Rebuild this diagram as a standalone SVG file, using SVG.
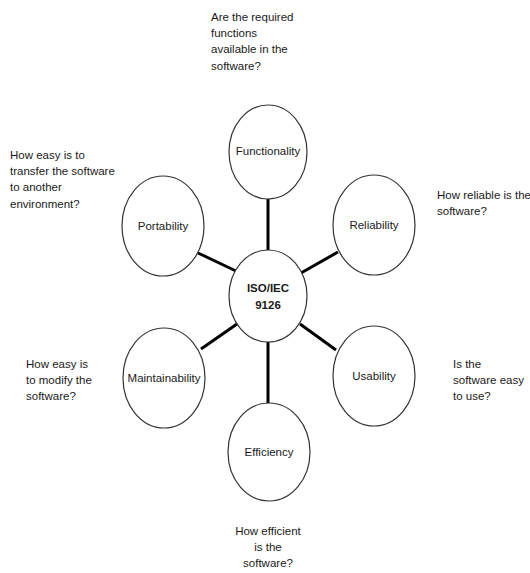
<svg xmlns="http://www.w3.org/2000/svg" width="530" height="573" viewBox="0 0 530 573">
  <style>
    .node ellipse { fill: #ffffff; stroke: #333333; stroke-width: 1.2; }
    .label { font-family: "Liberation Sans", Arial, sans-serif; font-size: 11.5px; fill: #1a1a1a; text-anchor: middle; dominant-baseline: central; }
    .hub { font-weight: bold; }
    .note { font-family: "Liberation Sans", Arial, sans-serif; font-size: 11.5px; fill: #1a1a1a; }
    .conn line { stroke: #000000; stroke-width: 3; }
  </style>
  <rect width="530" height="573" fill="#ffffff"/>

  <!-- spokes from the hub to each characteristic -->
  <g id="connectors" class="conn">
    <line x1="268" y1="199" x2="268" y2="251"/>
    <line x1="198" y1="253" x2="236" y2="271"/>
    <line x1="338" y1="252" x2="301" y2="273"/>
    <line x1="201" y1="349" x2="237" y2="324"/>
    <line x1="336" y1="350" x2="300" y2="324"/>
    <line x1="268" y1="341" x2="268" y2="404"/>
  </g>

  <g id="hub" class="node">
    <ellipse cx="268" cy="296" rx="39" ry="46"/>
    <text class="label hub" x="268" y="288">ISO/IEC</text>
    <text class="label hub" x="268" y="305">9126</text>
  </g>
  <g id="functionality" class="node">
    <ellipse cx="268" cy="152" rx="39" ry="47"/>
    <text class="label" x="268" y="151">Functionality</text>
  </g>
  <g id="portability" class="node">
    <ellipse cx="163" cy="226" rx="41" ry="50"/>
    <text class="label" x="163" y="226">Portability</text>
  </g>
  <g id="reliability" class="node">
    <ellipse cx="374" cy="225" rx="41" ry="50"/>
    <text class="label" x="374" y="225">Reliability</text>
  </g>
  <g id="maintainability" class="node">
    <ellipse cx="164" cy="378" rx="41" ry="50"/>
    <text class="label" x="164" y="378">Maintainability</text>
  </g>
  <g id="usability" class="node">
    <ellipse cx="374" cy="376" rx="41" ry="50"/>
    <text class="label" x="374" y="376">Usability</text>
  </g>
  <g id="efficiency" class="node">
    <ellipse cx="269" cy="452" rx="41" ry="49"/>
    <text class="label" x="269" y="452">Efficiency</text>
  </g>

  <!-- guiding questions -->
  <g id="q-functionality" class="note">
    <text x="211" y="21">Are the required</text>
    <text x="211" y="37">functions</text>
    <text x="211" y="53">available in the</text>
    <text x="211" y="70">software?</text>
  </g>
  <g id="q-portability" class="note">
    <text x="10" y="159">How easy is to</text>
    <text x="10" y="175">transfer the software</text>
    <text x="10" y="191">to another</text>
    <text x="10" y="208">environment?</text>
  </g>
  <g id="q-reliability" class="note">
    <text x="437" y="199">How reliable is the</text>
    <text x="437" y="215">software?</text>
  </g>
  <g id="q-maintainability" class="note">
    <text x="26" y="368">How easy is</text>
    <text x="26" y="384">to modify the</text>
    <text x="26" y="400">software?</text>
  </g>
  <g id="q-usability" class="note">
    <text x="453" y="368">Is the</text>
    <text x="453" y="384">software easy</text>
    <text x="453" y="400">to use?</text>
  </g>
  <g id="q-efficiency" class="note" text-anchor="middle">
    <text x="268" y="535">How efficient</text>
    <text x="268" y="551">is the</text>
    <text x="268" y="567">software?</text>
  </g>
</svg>
